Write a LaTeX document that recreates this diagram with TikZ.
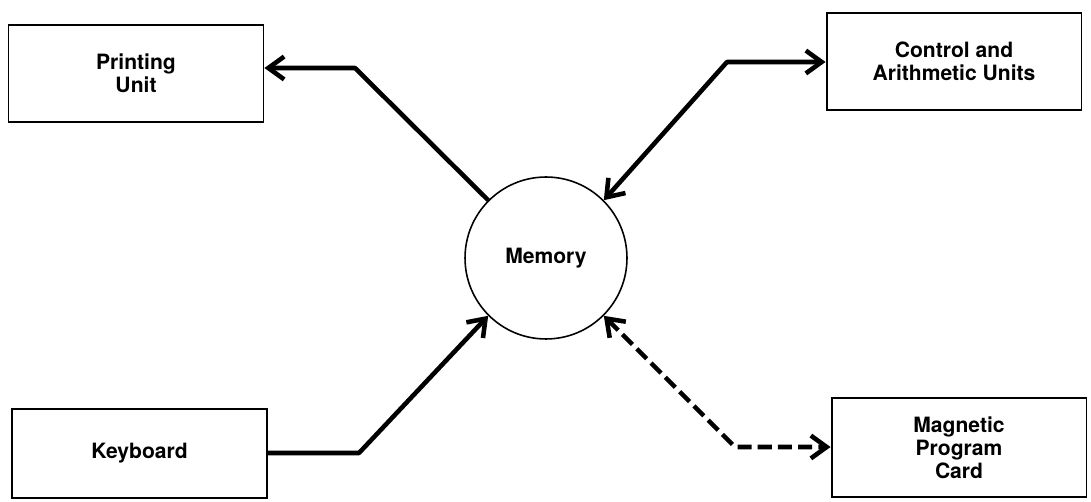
\documentclass[tikz,border=0pt]{standalone}
\usepackage{fontspec}
\setmainfont{TeX Gyre Heros}
\usetikzlibrary{arrows.meta}

\begin{document}
\begin{tikzpicture}[x=0.02cm, y=-0.02cm, > = {Straight Barb[length=9pt,width=13pt]}, font=\bfseries\fontsize{12}{13}\selectfont]
                \tikzstyle{unit}=[rectangle, draw, line width=1.1pt, minimum width=5.1cm, minimum height=1.94cm, align=center, inner sep=0pt]
                \tikzstyle{link}=[line width=2.6pt, line join=round]
                \useasboundingbox (0,0) rectangle (1091,502);

                    % Nós
                    \node[unit] (print) at (136,73.5) {Printing\\Unit};
                    \node[unit] (ctrl) at (954,61.5) {Control and\\Arithmetic Units};
                    \node[unit, minimum height=1.78cm] (keyb) at (139.5,453.5) {Keyboard};
                    \node[unit, minimum height=1.98cm] (mag) at (959,447.5) {Magnetic\\Program\\Card};
                    \node[circle, draw, line width=0.9pt, minimum size=3.24cm] (mem) at (546,258) {Memory};

                    % Cotovelos
                    \coordinate (pe) at (355,68);
                    \coordinate (ce) at (727,62);
                    \coordinate (ke) at (359,453);
                    \coordinate (me) at (735,447);

                    % Ligações
                    \draw[link,->] (mem.135) -- (pe) -- (print.east |- pe);
                    \draw[link,<->] (ctrl.west |- ce) -- (ce) -- (mem.45);
                    \draw[link,->] (keyb.east |- ke) -- (ke) -- (mem.225);
                    \draw[link,<->,dash pattern=on 8pt off 3.5pt] (mem.315) -- (me) -- (mag.west |- me);
            \end{tikzpicture}
\end{document}
